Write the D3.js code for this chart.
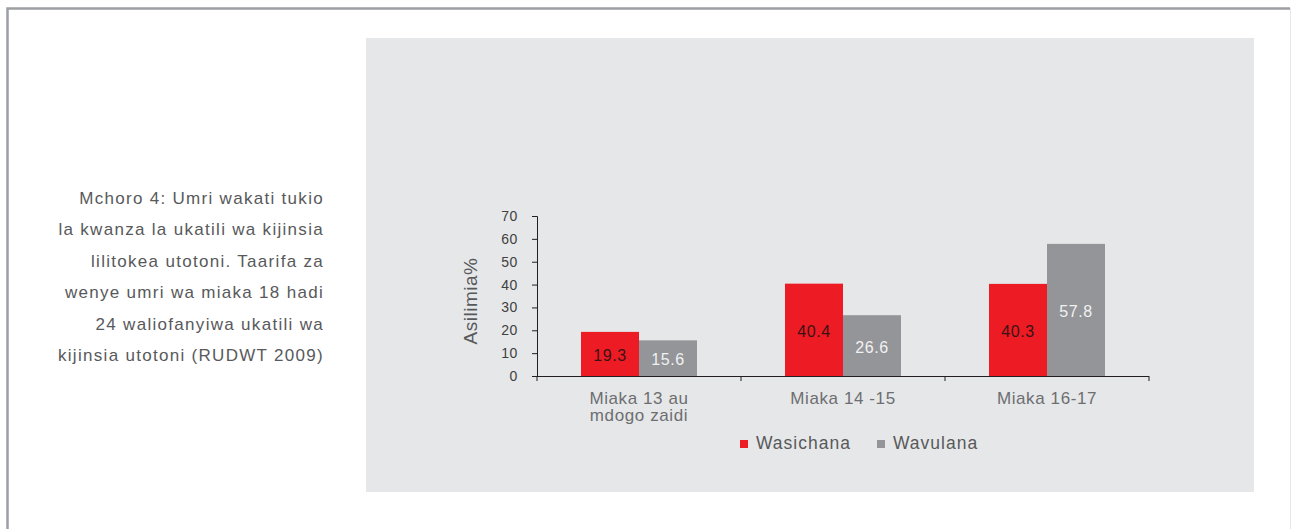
<html>
<head>
  <meta charset="utf-8">
  <script src="https://d3js.org/d3.v7.min.js"></script>
  <style>
    body {
      margin: 0;
      padding: 0;
      background: #fff;
      font-family: "Liberation Sans", Arial, sans-serif;
    }
    .caption {
      font-size: 17px;
      letter-spacing: 1.3px;
      fill: #58595b;
      text-anchor: end;
    }
    .tick text {
      font-size: 14px;
      letter-spacing: 0.6px;
      fill: #414042;
    }
    .cat {
      font-size: 17px;
      letter-spacing: 0.6px;
      fill: #6d6e71;
      text-anchor: middle;
    }
    .legend text {
      font-size: 17.5px;
      letter-spacing: 1px;
      fill: #58595b;
    }
  </style>
</head>
<body>
<svg id="chart" width="1291" height="529"></svg>
<script>

var categories = [["Miaka 13 au", "mdogo zaidi"], ["Miaka 14 -15"], ["Miaka 16-17"]];
var seriesNames = ["Wasichana", "Wavulana"];
var wasichana = [19.3, 40.4, 40.3];
var wavulana = [15.6, 26.6, 57.8];
var yTicks = [0, 10, 20, 30, 40, 50, 60, 70];
var captionLines = [
  "Mchoro 4: Umri wakati tukio",
  "la kwanza la ukatili wa kijinsia",
  "lilitokea utotoni. Taarifa za",
  "wenye umri wa miaka 18 hadi",
  "24 waliofanyiwa ukatili wa",
  "kijinsia utotoni (RUDWT 2009)"
];

var colors = ["#ed1c24", "#939598"];
var labelColors = ["#3b1214", "#f1f1f2"];

var svg = d3.select("#chart");

// outer frame
svg.append("path")
    .attr("d", "M7.5,530 V8.5 H1290")
    .attr("fill", "none")
    .attr("stroke", "#9d9fa2")
    .attr("stroke-width", 2.5);
svg.append("line")
    .attr("x1", 1290.5).attr("x2", 1290.5)
    .attr("y1", 8).attr("y2", 529)
    .attr("stroke", "#e6e7e8")
    .attr("stroke-width", 1);

// gray panel
svg.append("rect")
    .attr("x", 366).attr("y", 38)
    .attr("width", 888).attr("height", 454)
    .attr("fill", "#e6e7e8");

// caption (letter-spacing adds a trailing gap, so shift right a bit)
svg.append("g").selectAll("text")
    .data(captionLines)
  .enter().append("text")
    .attr("class", "caption")
    .attr("x", 324)
    .attr("y", function(d, i) { return 204 + i * 31.4; })
    .text(function(d) { return d; });

var plotLeft = 537, plotRight = 1149, plotTop = 216, plotBottom = 376;

var x0 = d3.scaleBand()
    .domain(d3.range(categories.length))
    .range([plotLeft, plotRight])
    .paddingInner(0)
    .paddingOuter(0);

var x1 = d3.scaleBand()
    .domain(d3.range(seriesNames.length))
    .range([44, x0.bandwidth() - 44]);

var y = d3.scaleLinear()
    .domain([0, 70])
    .range([plotBottom, plotTop]);

// y axis
var yAxis = svg.append("g")
    .attr("transform", "translate(" + plotLeft + ",0)")
    .call(d3.axisLeft(y).tickValues(yTicks).tickSize(5).tickPadding(14));
yAxis.select(".domain").attr("stroke", "#231f20");
yAxis.selectAll(".tick line").attr("stroke", "#231f20");

svg.append("text")
    .attr("transform", "translate(477,301) rotate(-90)")
    .attr("text-anchor", "middle")
    .attr("font-size", 19)
    .attr("letter-spacing", 0.5)
    .attr("fill", "#58595b")
    .text("Asilimia%");

// bars
var groups = svg.append("g").selectAll("g")
    .data(categories.map(function(c, i) { return [wasichana[i], wavulana[i]]; }))
  .enter().append("g")
    .attr("transform", function(d, i) { return "translate(" + x0(i) + ",0)"; });

groups.selectAll("rect")
    .data(function(d) { return d; })
  .enter().append("rect")
    .attr("x", function(d, j) { return x1(j); })
    .attr("y", function(d) { return y(d); })
    .attr("width", x1.bandwidth())
    .attr("height", function(d) { return plotBottom - y(d); })
    .attr("fill", function(d, j) { return colors[j]; });

groups.selectAll("text")
    .data(function(d) { return d; })
  .enter().append("text")
    .attr("x", function(d, j) { return x1(j) + x1.bandwidth() / 2; })
    .attr("y", function(d) { return (y(d) + plotBottom) / 2 + 7; })
    .attr("text-anchor", "middle")
    .attr("font-size", 16)
    .attr("letter-spacing", 0.6)
    .attr("fill", function(d, j) { return labelColors[j]; })
    .text(function(d) { return d.toFixed(1); });

// x axis
var xAxisLine = svg.append("g");
xAxisLine.append("line")
    .attr("x1", plotLeft).attr("x2", plotRight)
    .attr("y1", plotBottom + 0.5).attr("y2", plotBottom + 0.5)
    .attr("stroke", "#231f20");
xAxisLine.selectAll(".xt")
    .data(d3.range(categories.length + 1))
  .enter().append("line")
    .attr("x1", function(i) { return i < categories.length ? x0(i) : plotRight; })
    .attr("x2", function(i) { return i < categories.length ? x0(i) : plotRight; })
    .attr("y1", plotBottom).attr("y2", plotBottom + 5)
    .attr("stroke", "#231f20");

svg.append("g").selectAll("text")
    .data(categories)
  .enter().append("text")
    .attr("class", "cat")
    .attr("x", function(d, i) { return x0(i) + x0.bandwidth() / 2; })
    .attr("y", 404)
    .selectAll("tspan")
    .data(function(d) { return d; })
  .enter().append("tspan")
    .attr("x", function() { return d3.select(this.parentNode).attr("x"); })
    .attr("dy", function(d, k) { return k === 0 ? 0 : 16.5; })
    .text(function(d) { return d; });

// legend
var legendX = [740, 877];
var legend = svg.append("g").attr("class", "legend");
legend.selectAll("rect")
    .data(seriesNames)
  .enter().append("rect")
    .attr("x", function(d, i) { return legendX[i]; })
    .attr("y", 440)
    .attr("width", 8).attr("height", 8)
    .attr("fill", function(d, i) { return colors[i]; });
legend.selectAll("text")
    .data(seriesNames)
  .enter().append("text")
    .attr("x", function(d, i) { return legendX[i] + 16; })
    .attr("y", 449)
    .text(function(d) { return d; });

</script>
</body>
</html>
